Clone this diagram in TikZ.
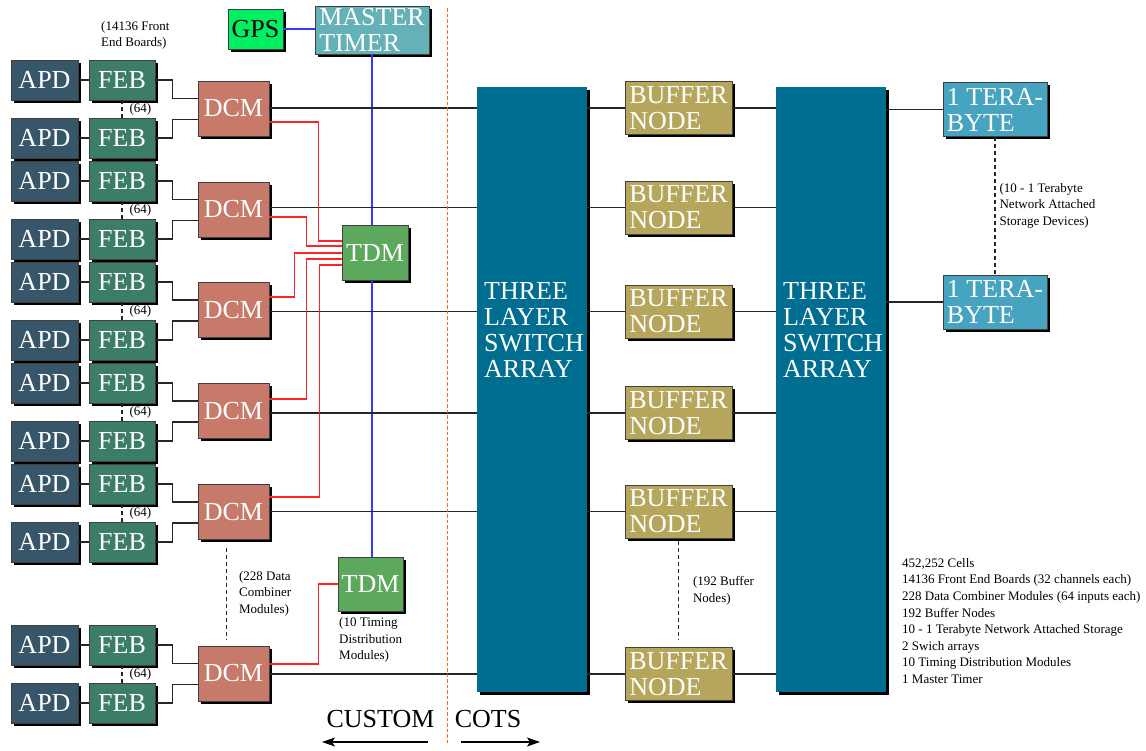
\documentclass[tikz,border=0pt]{standalone}
\usepackage{fontspec}
\setmainfont{Liberation Serif}
\usetikzlibrary{shadows,calc,arrows.meta}

\definecolor{apdcol}{HTML}{37566A}
\definecolor{febcol}{HTML}{3C7D69}
\definecolor{dcmcol}{HTML}{C87A6A}
\definecolor{tdmcol}{HTML}{5CA85C}
\definecolor{gpscol}{HTML}{00F064}
\definecolor{mastercol}{HTML}{64B2B8}
\definecolor{switchcol}{HTML}{006E91}
\definecolor{bufcol}{HTML}{B6A65C}
\definecolor{teracol}{HTML}{46A4C0}
\definecolor{syncred}{HTML}{FF2424}
\definecolor{clockblue}{HTML}{3838FF}
\definecolor{divorange}{HTML}{E8701E}

\newcommand\bigfont{\fontsize{26}{26}\selectfont}
\newcommand\smallfont{\fontsize{13}{16.6}\selectfont}

\tikzset{
  unit/.style={draw=black!75, line width=0.8pt, inner sep=0pt, text=white,
    font=\bigfont,
    drop shadow={shadow xshift=2.5pt, shadow yshift=-2.5pt, opacity=1, fill=black}},
  apdbox/.style={unit, fill=apdcol, minimum width=67pt, minimum height=40pt},
  febbox/.style={unit, fill=febcol, minimum width=66pt, minimum height=40pt},
  dcmbox/.style={unit, fill=dcmcol, minimum width=71pt, minimum height=55pt},
  tdmbox/.style={unit, fill=tdmcol, minimum width=66pt, minimum height=55pt},
  gpsbox/.style={unit, fill=gpscol, text=black, minimum width=55pt, minimum height=40pt},
  masterbox/.style={unit, fill=mastercol, align=left, minimum width=114pt, minimum height=48pt},
  switchbox/.style={unit, draw=none, fill=switchcol, minimum width=110pt, minimum height=605pt},
  bufbox/.style={unit, fill=bufcol, align=left, minimum width=107pt, minimum height=53pt},
  terabox/.style={unit, fill=teracol, align=left, minimum width=104pt, minimum height=54pt},
  bigtext/.style={font=\bigfont, inner sep=0pt},
  smalltext/.style={font=\smallfont, align=left, inner sep=0pt},
  wire/.style={draw=black!85, line width=1.1pt},
  sync/.style={draw=syncred, line width=1.1pt},
  clock/.style={draw=clockblue, line width=1.1pt},
  dashline/.style={draw=black!85, line width=1.2pt, dash pattern=on 4pt off 3pt},
  divider/.style={draw=divorange, line width=0.8pt, dash pattern=on 3.5pt off 2pt},
  sidearrow/.style={draw=black, line width=1.1pt, -{Stealth[length=13pt, width=9pt, inset=3pt]}}
}

\begin{document}
\begin{tikzpicture}[x=1pt, y=-1pt]
\useasboundingbox (0,0) rectangle (1146,750);

% switch arrays
\node[switchbox] (sw1) at (532,389.5) {};
\node[switchbox] (sw2) at (831,389.5) {};
\node[bigtext, text=white, align=left, anchor=west] (sw1t) at (484,330) {THREE\\LAYER\\SWITCH\\ARRAY};
\node[bigtext, text=white, align=left, anchor=west] (sw2t) at (783,330) {THREE\\LAYER\\SWITCH\\ARRAY};

% buffer nodes between the two switch arrays
\foreach \j/\y in {1/108, 2/207.5, 3/311.5, 4/413, 5/511.5, 6/674} {
  \node[bufbox] (buf\j) at (678.5,\y) {BUFFER\\NODE};
  \draw[wire] (sw1.east |- buf\j.west) -- (buf\j.west);
  \draw[wire] (buf\j.east) -- (sw2.west |- buf\j.east);
}
\draw[dashline] ($(buf5.south)+(0,3)$) -- node[smalltext, right, xshift=14pt] (bufnote) {(192 Buffer\\Nodes)} ($(buf6.north)+(0,-7)$);

% network attached storage
\node[terabox] (tera1) at (995,109.5) {1 TERA-\\BYTE};
\node[terabox] (tera2) at (995,302) {1 TERA-\\BYTE};
\draw[wire] (sw2.east |- tera1.west) -- (tera1.west);
\draw[wire] (sw2.east |- tera2.west) -- (tera2.west);
\draw[dashline] (tera1.south) -- node[smalltext, right, xshift=4pt] (teranote) {(10 - 1 Terabyte\\Network Attached\\Storage Devices)} (tera2.north);

% timing system
\node[gpsbox] (gps) at (255.5,29) {GPS};
\node[masterbox] (master) at (372,30) {MASTER\\TIMER};
\node[tdmbox] (tdm1) at (375,253) {TDM};
\node[tdmbox, minimum width=65pt, minimum height=54pt] (tdm2) at (370.5,584) {TDM};
\draw[clock] (gps.east) -- (gps.east -| master.west);
\draw[clock] (master.south) -- (master.south |- tdm1.north);
\draw[clock] (master.south |- tdm1.south) -- (master.south |- tdm2.north);
\node[smalltext, anchor=west] (tdmnote) at (339,640) {(10 Timing\\Distribution\\Modules)};

% front end: APD -> FEB pairs feeding one DCM each
\foreach \i/\ya/\yb/\yd in {1/80/138/108.5, 2/181/239/209.5, 3/282/340/310, 4/383/441/411, 5/484/542/512, 6/645/703/673.5} {
  \node[apdbox] (apdA\i) at (44.5,\ya) {APD};
  \node[apdbox] (apdB\i) at (44.5,\yb) {APD};
  \node[febbox] (febA\i) at (122,\ya) {FEB};
  \node[febbox] (febB\i) at (122,\yb) {FEB};
  \node[dcmbox] (dcm\i) at (233.5,\yd) {DCM};
  \draw[wire] (apdA\i) -- (febA\i);
  \draw[wire] (apdB\i) -- (febB\i);
  \draw[wire] (febA\i.east) -- ++(17,0) |- ($(dcm\i.west)+(0,-10)$);
  \draw[wire] (febB\i.east) -- ++(17,0) |- ($(dcm\i.west)+(0,11)$);
  \draw[dashline] (febA\i.south) -- node[smalltext, right, xshift=7pt] (cnt\i) {(64)} (febB\i.north);
  \draw[wire] (dcm\i.east |- buf\i.west) -- (sw1.west |- buf\i.west);
}
\node[smalltext, anchor=west] (febnote) at (101,35.5) {(14136 Front\\End Boards)};
\draw[dashline] ($(dcm5.south)+(-7,8)$) -- node[smalltext, right, xshift=12pt] (dcmnote) {(228 Data\\Combiner\\Modules)} ($(dcm6.north)+(-7,-6)$);

% DCM -> TDM timing links
\draw[sync] ($(dcm1.east)+(0,13.5)$) -- ++(49,0) |- ($(tdm1.west)+(0,-12)$);
\draw[sync] ($(dcm2.east)+(0,7.5)$) -- ++(37,0) |- ($(tdm1.west)+(0,-7)$);
\draw[sync] ($(dcm3.east)+(0,-13)$) -- ++(25,0) |- (tdm1.west);
\draw[sync] ($(dcm4.east)+(0,-12)$) -- ++(37,0) |- ($(tdm1.west)+(0,6)$);
\draw[sync] ($(dcm5.east)+(0,-15)$) -- ++(50,0) |- ($(tdm1.west)+(0,12)$);
\draw[sync] ($(dcm6.east)+(0,-9.5)$) -- ++(49,0) |- (tdm2.west);

% custom / commercial boundary
\coordinate (divtop) at (447,8);
\coordinate (divbottom) at (447,745);
\draw[divider] (divtop) -- (divbottom);
\node[bigtext] (custom) at (380.5,719) {CUSTOM};
\node[bigtext] (cots) at (488,719) {COTS};
\coordinate (customfrom) at (428,742);
\coordinate (customto) at (322,742);
\coordinate (cotsfrom) at (461,742);
\coordinate (cotsto) at (540,742);
\draw[sidearrow] (customfrom) -- (customto);
\draw[sidearrow] (cotsfrom) -- (cotsto);

% summary
\node[smalltext, anchor=west] (summary) at (902,621) {452,252 Cells\\14136 Front End Boards (32 channels each)\\228 Data Combiner Modules (64 inputs each)\\192 Buffer Nodes\\10 - 1 Terabyte Network Attached Storage\\2 Swich arrays\\10 Timing Distribution Modules\\1 Master Timer};
\end{tikzpicture}
\end{document}
